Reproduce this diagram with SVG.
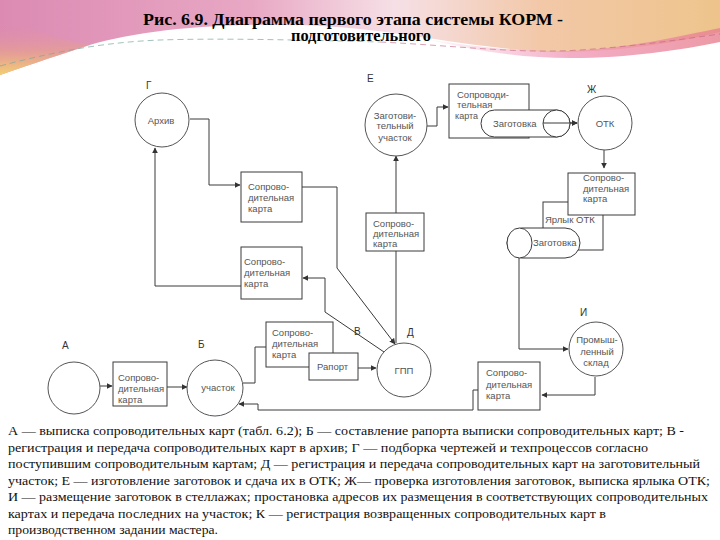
<svg xmlns="http://www.w3.org/2000/svg" width="720" height="540" viewBox="0 0 720 540">
  <defs>
    <linearGradient id="bgH" x1="0" y1="0" x2="1" y2="0">
      <stop offset="0" stop-color="#dc8ab2"/>
      <stop offset="0.35" stop-color="#e8a8c4"/>
      <stop offset="0.55" stop-color="#f6e0e6"/>
      <stop offset="0.75" stop-color="#f2c8a8"/>
      <stop offset="1" stop-color="#eec48c"/>
    </linearGradient>
    <linearGradient id="bgL" x1="0" y1="0" x2="0" y2="1">
      <stop offset="0" stop-color="#dc8ab2" stop-opacity="0"/>
      <stop offset="0.55" stop-color="#e6a090" stop-opacity="0.7"/>
      <stop offset="1" stop-color="#f4d070"/>
    </linearGradient>
    <linearGradient id="bgR" x1="0" y1="0" x2="1" y2="0">
      <stop offset="0" stop-color="#f0a0c0" stop-opacity="0"/>
      <stop offset="0.5" stop-color="#f09ab8"/>
      <stop offset="1" stop-color="#e88090"/>
    </linearGradient>
    <marker id="arr" viewBox="0 0 10 10" refX="9" refY="5" markerWidth="6" markerHeight="6" orient="auto" markerUnits="userSpaceOnUse">
      <path d="M0,0 L10,5 L0,10 Z" fill="#333"/>
    </marker>
    <style>
      .ln{stroke:#3a3a3a;stroke-width:1;fill:none}
      .bx{fill:#fff;stroke:#3a3a3a;stroke-width:1}
      .cr{fill:#fff;stroke:#555;stroke-width:1}
      .t{font-family:"Liberation Sans",Arial,sans-serif;font-size:9.5px;fill:#555}
      .tc{font-family:"Liberation Sans",Arial,sans-serif;font-size:9.5px;fill:#555;text-anchor:middle}
      .lb{font-family:"Liberation Sans",Arial,sans-serif;font-size:10px;fill:#333}
      .title{font-family:"Liberation Serif","DejaVu Serif","Noto Serif",serif;font-size:16px;font-weight:bold;fill:#000;text-anchor:middle}
      .d{font-family:"Liberation Serif","DejaVu Serif","Noto Serif",serif;font-size:13px;fill:#111}
    </style>
  </defs>

  <!-- background -->
  <rect width="720" height="540" fill="#fff"/>
  <path d="M0,0 H720 V32 C680,42 620,52 560,52 C470,50 400,28 300,25 C200,23 130,32 80,48 C50,58 20,68 0,75 Z" fill="url(#bgH)"/>
  <path d="M0,20 C40,30 60,40 90,45 C50,58 20,68 0,75 Z" fill="url(#bgL)"/>
  <path d="M420,38 C480,48 530,52 570,51 C630,48 680,36 720,28 V42 C680,50 630,58 570,58 C520,58 470,50 420,38 Z" fill="url(#bgR)" opacity="0.8"/>
  <path d="M0,66 C60,50 110,42 160,40 C220,38 300,40 380,42" fill="none" stroke="#7aa8a0" stroke-width="1" stroke-dasharray="6,4" opacity="0.7"/>
  <path d="M380,42 C460,46 520,54 580,50 C640,46 690,38 720,34" fill="none" stroke="#c06080" stroke-width="1" stroke-dasharray="6,4" opacity="0.6"/>

  <!-- title -->
  <text class="title" x="353" y="25" textLength="420" lengthAdjust="spacingAndGlyphs">Рис. 6.9. Диаграмма первого этапа системы КОРМ -</text>
  <text class="title" x="361" y="41" textLength="140" lengthAdjust="spacingAndGlyphs">подготовительного</text>

  <!-- connectors -->
  <g id="connectors">
    <path class="ln" d="M100,386 H112" marker-end="url(#arr)"/>
    <path class="ln" d="M167,387 H187" marker-end="url(#arr)"/>
    <path class="ln" d="M243,383 H255 V347 H266"/>
    <path class="ln" d="M358,368 H376" marker-end="url(#arr)"/>
    <path class="ln" d="M190,119 H209 V185 H240" marker-end="url(#arr)"/>
    <path class="ln" d="M302,187 H337 V268 L395,344" marker-end="url(#arr)"/>
    <path class="ln" d="M384,352 L325,312 V278 H303" marker-end="url(#arr)"/>
    <path class="ln" d="M241,286 H155 V148" marker-end="url(#arr)"/>
    <path class="ln" d="M396,343 V251"/>
    <path class="ln" d="M396,213 V156" marker-end="url(#arr)"/>
    <path class="ln" d="M427,126 H437 V107 H448" marker-end="url(#arr)"/>
    <path class="ln" d="M543,123 H577" marker-end="url(#arr)"/>
    <path class="ln" d="M604,150 V168" marker-end="url(#arr)"/>
    <path class="ln" d="M519,258 V349 H568" marker-end="url(#arr)"/>
    <path class="ln" d="M595,377 V395 H542" marker-end="url(#arr)"/>
    <path class="ln" d="M478,390 H473 V410 H258 V404 H239" marker-end="url(#arr)"/>
    <text class="lb" x="354" y="335">В</text>
  </g>

  <!-- nodes -->
  <g id="node-A">
    <circle class="cr" cx="74" cy="388" r="26"/>
    <text class="lb" x="62" y="349">А</text>
  </g>
  <g id="card-A">
    <rect class="bx" x="113" y="362" width="54" height="44"/>
    <text class="t" x="118" y="381">Сопрово-</text>
    <text class="t" x="118" y="392">дительная</text>
    <text class="t" x="118" y="403">карта</text>
  </g>
  <g id="node-B">
    <circle class="cr" cx="215" cy="388" r="28"/>
    <text class="lb" x="198" y="348">Б</text>
    <text class="tc" x="218" y="391">участок</text>
  </g>
  <g id="card-B">
    <rect class="bx" x="266" y="322" width="67" height="45"/>
    <text class="t" x="272" y="336">Сопрово-</text>
    <text class="t" x="272" y="347">дительная</text>
    <text class="t" x="272" y="358">карта</text>
  </g>
  <g id="report">
    <rect class="bx" x="309" y="353" width="49" height="27"/>
    <text class="t" x="317" y="370">Рапорт</text>
  </g>
  <g id="node-G">
    <circle class="cr" cx="162" cy="120" r="27"/>
    <text class="lb" x="146" y="89">Г</text>
    <text class="tc" x="161" y="124">Архив</text>
  </g>
  <g id="card-G1">
    <rect class="bx" x="241" y="172" width="61" height="50"/>
    <text class="t" x="248" y="190">Сопрово-</text>
    <text class="t" x="248" y="201">дительная</text>
    <text class="t" x="248" y="212">карта</text>
  </g>
  <g id="card-G2">
    <rect class="bx" x="241" y="247" width="61" height="52"/>
    <text class="t" x="244" y="265">Сопрово-</text>
    <text class="t" x="244" y="276">дительная</text>
    <text class="t" x="244" y="287">карта</text>
  </g>
  <g id="node-D">
    <circle class="cr" cx="404" cy="370" r="27"/>
    <text class="lb" x="407" y="336">Д</text>
    <text class="tc" x="404" y="374">ГПП</text>
  </g>
  <g id="card-E">
    <rect class="bx" x="366" y="213" width="58" height="38"/>
    <text class="t" x="373" y="227">Сопрово-</text>
    <text class="t" x="373" y="237">дительная</text>
    <text class="t" x="373" y="247">карта</text>
  </g>
  <g id="node-E">
    <circle class="cr" cx="396" cy="125" r="31"/>
    <text class="lb" x="367" y="82">Е</text>
    <text class="tc" x="395" y="119">Заготови-</text>
    <text class="tc" x="395" y="129">тельный</text>
    <text class="tc" x="395" y="141">участок</text>
  </g>
  <g id="card-E2">
    <rect class="bx" x="449" y="84" width="80" height="54"/>
    <text class="t" x="457" y="98">Сопроводи-</text>
    <text class="t" x="457" y="108">тельная</text>
    <text class="t" x="455" y="119" style="font-size:9px">карта</text>
  </g>
  <g id="blank-1">
    <rect class="bx" x="481" y="110" width="89" height="27" rx="13.5"/>
    <ellipse class="bx" cx="556.5" cy="123.5" rx="13.5" ry="13.5"/>
    <text class="t" x="493" y="127">Заготовка</text>
    <path class="ln" d="M543,123 H577" marker-end="url(#arr)"/>
  </g>
  <g id="node-Zh">
    <circle class="cr" cx="605" cy="123" r="27"/>
    <text class="lb" x="587" y="93">Ж</text>
    <text class="tc" x="605" y="127">ОТК</text>
  </g>
  <g id="label-OTK">
    <rect class="bx" x="543" y="202" width="60" height="48"/>
    <text class="t" x="545" y="223">Ярлык ОТК</text>
  </g>
  <g id="card-Zh">
    <rect class="bx" x="568" y="173" width="67" height="42"/>
    <text class="t" x="583" y="181">Сопрово-</text>
    <text class="t" x="583" y="192">дительная</text>
    <text class="t" x="583" y="202">карта</text>
  </g>
  <g id="blank-2">
    <rect class="bx" x="507" y="228" width="73" height="30" rx="15"/>
    <ellipse class="bx" cx="519.5" cy="243" rx="12.5" ry="15"/>
    <text class="t" x="533" y="246">Заготовка</text>
  </g>
  <g id="node-I">
    <circle class="cr" cx="596" cy="349" r="27"/>
    <text class="lb" x="580" y="316">И</text>
    <text class="tc" x="597" y="343">Промыш-</text>
    <text class="tc" x="597" y="355">ленный</text>
    <text class="tc" x="596" y="366">склад</text>
  </g>
  <g id="card-I">
    <rect class="bx" x="478" y="362" width="62" height="48"/>
    <text class="t" x="486" y="376">Сопрово-</text>
    <text class="t" x="486" y="388">дительная</text>
    <text class="t" x="486" y="399">карта</text>
  </g>

  <!-- description -->
  <g id="description">
    <text class="d" x="8" y="435" textLength="676" lengthAdjust="spacingAndGlyphs">А — выписка сопроводительных карт (табл. 6.2); Б — составление рапорта выписки сопроводительных карт; В -</text>
    <text class="d" x="8" y="452" textLength="640" lengthAdjust="spacingAndGlyphs">регистрация и передача сопроводительных карт в архив; Г — подборка чертежей и техпроцессов согласно</text>
    <text class="d" x="8" y="468" textLength="692" lengthAdjust="spacingAndGlyphs">поступившим сопроводительным картам; Д — регистрация и передача сопроводительных карт на заготовительный</text>
    <text class="d" x="8" y="485" textLength="702" lengthAdjust="spacingAndGlyphs">участок; Е — изготовление заготовок и сдача их в ОТК; Ж— проверка изготовления заготовок, выписка ярлыка ОТК;</text>
    <text class="d" x="8" y="501" textLength="700" lengthAdjust="spacingAndGlyphs">И — размещение заготовок в стеллажах; простановка адресов их размещения в соответствующих сопроводительных</text>
    <text class="d" x="8" y="518" textLength="598" lengthAdjust="spacingAndGlyphs">картах и передача последних на участок; К — регистрация возвращенных сопроводительных карт в</text>
    <text class="d" x="8" y="534" textLength="210" lengthAdjust="spacingAndGlyphs">производственном задании мастера.</text>
  </g>
</svg>
